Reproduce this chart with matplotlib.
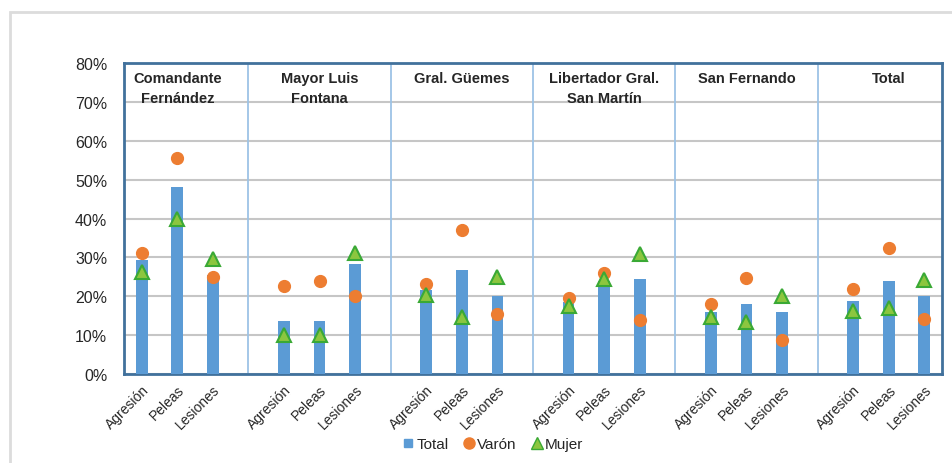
import matplotlib
matplotlib.use("Agg")
import matplotlib.pyplot as plt
from matplotlib.lines import Line2D
from matplotlib.patches import Rectangle
import numpy as np

plt.rcParams['font.family'] = ['Liberation Sans', 'DejaVu Sans']

# data (percent)
groups = ['Comandante\nFernández', 'Mayor Luis\nFontana', 'Gral. Güemes',
          'Libertador Gral.\nSan Martín', 'San Fernando', 'Total']
categories = ['Agresión', 'Peleas', 'Lesiones']

total = [29.4, 48.0, 25.5,
         13.7, 13.7, 28.3,
         21.7, 26.8, 20.0,
         18.4, 23.8, 24.4,
         15.9, 18.0, 15.9,
         18.9, 23.8, 20.1]
varon = [31.1, 55.5, 24.9,
         22.7, 23.8, 20.0,
         23.2, 37.1, 15.4,
         19.5, 26.0, 13.9,
         18.0, 24.6, 8.7,
         21.9, 32.3, 14.1]
mujer = [26.3, 40.0, 29.6,
         10.0, 10.0, 31.1,
         20.3, 14.6, 24.9,
         17.6, 24.4, 30.9,
         14.6, 13.3, 20.0,
         16.3, 16.9, 24.3]

bar_col = '#5b9bd5'
varon_col = '#ed7d31'
mujer_face = '#8cc63f'
mujer_edge = '#3aa935'
frame_col = '#41719c'
sep_col = '#9dc3e6'
grid_col = '#c6c6c6'
text_col = '#262626'

# x positions: 3 bars per group, one empty slot between groups
xpos = np.array([4 * g + i for g in range(len(groups)) for i in range(3)])

fig = plt.figure(figsize=(9.52, 4.64), dpi=100)
ax = fig.add_axes([124 / 952, 1 - 375 / 464, (942 - 124) / 952, (375 - 64) / 464])

# light outer frame of the original picture
fig.patches.append(Rectangle((10 / 952, -0.1), 1.1, 1 - 13 / 464 + 0.1,
                             transform=fig.transFigure, fill=False,
                             edgecolor='#dcdcdc', lw=2, zorder=0))

ax.bar(xpos, total, width=0.33, color=bar_col, zorder=3)
ax.plot(xpos, varon, 'o', ms=8.5, color=varon_col, mec=varon_col, zorder=4)
ax.plot(xpos, mujer, '^', ms=10.5, mfc=mujer_face, mec=mujer_edge, mew=1.5, zorder=5)

ax.set_xlim(-0.5, 4 * len(groups) - 1.5)
ax.set_ylim(0, 80)
ax.set_yticks(range(0, 81, 10))
ax.set_yticklabels(['%d%%' % v for v in range(0, 81, 10)])
ax.yaxis.grid(True, color=grid_col, lw=1.5, zorder=0)
ax.set_axisbelow(True)

ax.set_xticks(xpos)
ax.set_xticklabels(categories * len(groups), rotation=45, ha='right',
                   rotation_mode='anchor', fontsize=10, color=text_col)
ax.tick_params(axis='x', length=0, pad=6)
ax.tick_params(axis='y', length=0, pad=12, labelsize=11.5, labelcolor=text_col)

for s in ax.spines.values():
    s.set_color(frame_col)
    s.set_linewidth(2)

for g in range(1, len(groups)):
    ax.axvline(4 * g - 1, color=sep_col, lw=1.3, zorder=1)

for g, name in enumerate(groups):
    ax.text(4 * g + 1, 78.0, name, ha='center', va='top', fontsize=10.5,
            fontweight='bold', color=text_col, linespacing=1.55,
            family=['Liberation Sans Narrow', 'Liberation Sans'])

handles = [
    Line2D([], [], marker='s', ls='none', ms=6, color=bar_col),
    Line2D([], [], marker='o', ls='none', ms=8, color=varon_col),
    Line2D([], [], marker='^', ls='none', ms=8, mfc=mujer_face, mec=mujer_edge),
]
fig.legend(handles, ['Total', 'Varón', 'Mujer'], loc='center',
           bbox_to_anchor=(492 / 952, 1 - 445 / 464), ncol=3, frameon=False,
           fontsize=11, handletextpad=0.05, columnspacing=0.8,
           handlelength=1.0, labelcolor=text_col)

fig.savefig('out.png', dpi=100, facecolor='white')
